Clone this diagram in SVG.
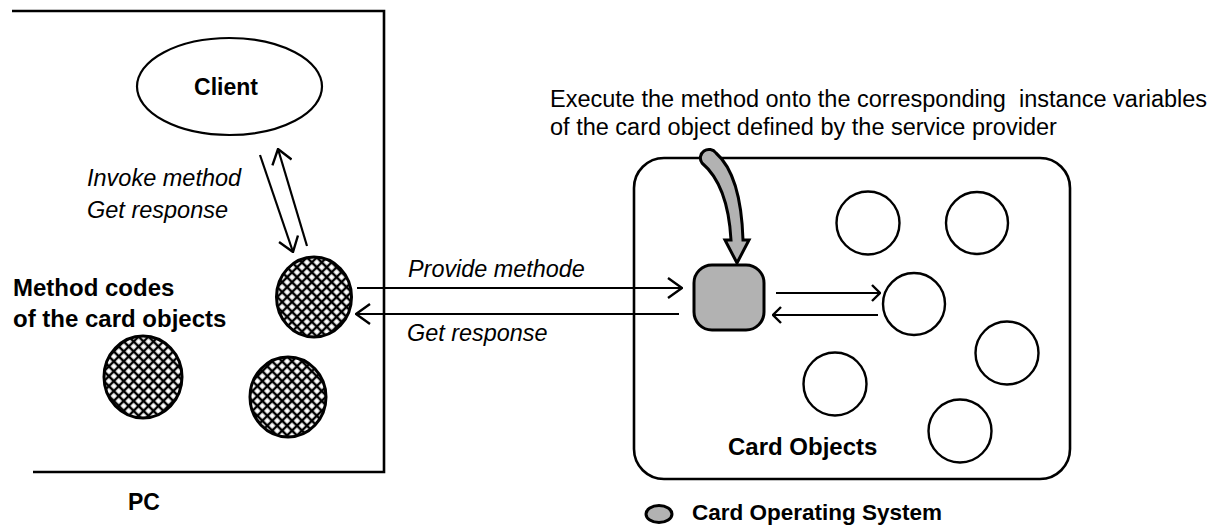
<svg xmlns="http://www.w3.org/2000/svg" width="1221" height="529" viewBox="0 0 1221 529">
<style>
  .ln{fill:none;stroke:#000;stroke-width:2.2}
  .frame{fill:none;stroke:#000;stroke-width:2.6}
  .t{font-family:"Liberation Sans",Arial,sans-serif;fill:#000}
  .b{font-weight:bold}
  .i{font-style:italic}
  .hatch{fill:url(#xh);stroke:#000;stroke-width:3}
  .obj{fill:#fff;stroke:#000;stroke-width:2.4}
  .cos{fill:#b2b2b2;stroke:#000;stroke-width:3}
</style>
<defs>
  <pattern id="xh" width="7" height="7" patternUnits="userSpaceOnUse" patternTransform="rotate(45)">
    <rect width="7" height="7" fill="#fff"/>
    <path d="M0 0H7M0 7H7M0 0V7M7 0V7" stroke="#000" stroke-width="2.4"/>
  </pattern>
  <marker id="ah" viewBox="0 0 16 22" refX="15" refY="11" markerWidth="16" markerHeight="22" markerUnits="userSpaceOnUse" orient="auto">
    <path d="M1 1L15 11L1 21" fill="none" stroke="#000" stroke-width="2.4"/>
  </marker>
  <marker id="as" viewBox="0 0 10 18" refX="9" refY="9" markerWidth="10" markerHeight="18" markerUnits="userSpaceOnUse" orient="auto">
    <path d="M1 1L9 9L1 17" fill="none" stroke="#000" stroke-width="2.4"/>
  </marker>
</defs>

<g id="pc">
  <path class="frame" d="M12 11H384V472H33"/>
  <text class="t b" x="128" y="510" font-size="23">PC</text>
</g>

<g id="client">
  <ellipse class="ln" cx="229.5" cy="86.5" rx="92.5" ry="48.5"/>
  <text class="t b" x="226" y="95" font-size="23" text-anchor="middle">Client</text>
</g>

<g id="method-codes">
  <text class="t b" x="13" y="296" font-size="24">Method codes</text>
  <text class="t b" x="13" y="327" font-size="24">of the card objects</text>
  <ellipse id="mc1" class="hatch" cx="314" cy="297" rx="37.5" ry="40"/>
  <ellipse id="mc2" class="hatch" cx="143" cy="377" rx="39" ry="41"/>
  <ellipse id="mc3" class="hatch" cx="288" cy="397" rx="38" ry="40"/>
</g>

<g id="card">
  <rect class="frame" x="634" y="158" width="436" height="321" rx="30"/>
  <text class="t b" x="728" y="455" font-size="24">Card Objects</text>
  <circle class="obj" cx="868" cy="223" r="31.5"/>
  <circle class="obj" cx="977" cy="223" r="31"/>
  <circle class="obj" cx="914" cy="304" r="31"/>
  <circle class="obj" cx="1007" cy="353" r="31.5"/>
  <circle class="obj" cx="835" cy="384" r="31.5"/>
  <circle class="obj" cx="960" cy="431" r="31.5"/>
</g>

<g id="cos">
  <rect class="cos" x="694" y="265" width="70" height="65" rx="18"/>
</g>

<g id="legend">
  <ellipse class="cos" cx="659" cy="514" rx="13" ry="8.5"/>
  <text class="t b" x="692" y="520" font-size="22.5">Card Operating System</text>
</g>

<g id="note">
  <text class="t" x="550" y="107" font-size="23.5" xml:space="preserve">Execute the method onto the corresponding  instance variables</text>
  <text class="t" x="550" y="135" font-size="23.5">of the card object defined by the service provider</text>
</g>

<g id="connectors">
  <line class="ln" x1="260" y1="155" x2="293" y2="252" marker-end="url(#ah)"/>
  <line class="ln" x1="307" y1="246" x2="278" y2="149" marker-end="url(#ah)"/>
  <line class="ln" x1="357" y1="288" x2="682" y2="288" marker-end="url(#ah)"/>
  <line class="ln" x1="679" y1="314" x2="356" y2="314" marker-end="url(#ah)"/>
  <line class="ln" x1="776" y1="293" x2="880" y2="293" marker-end="url(#as)"/>
  <line class="ln" x1="878" y1="315" x2="773" y2="315" marker-end="url(#as)"/>
  <path class="cos" stroke-width="2.6" d="M702 163Q728 185 731 240L725 240L737 263L749 240L743 240Q741 175 716 153A8 8 0 0 0 702 163Z"/>
  <text class="t i" x="87" y="186" font-size="23.5">Invoke method</text>
  <text class="t i" x="87" y="218" font-size="23.5">Get response</text>
  <text class="t i" x="408" y="277" font-size="23.4">Provide methode</text>
  <text class="t i" x="407" y="341" font-size="23.4">Get response</text>
</g>
</svg>
